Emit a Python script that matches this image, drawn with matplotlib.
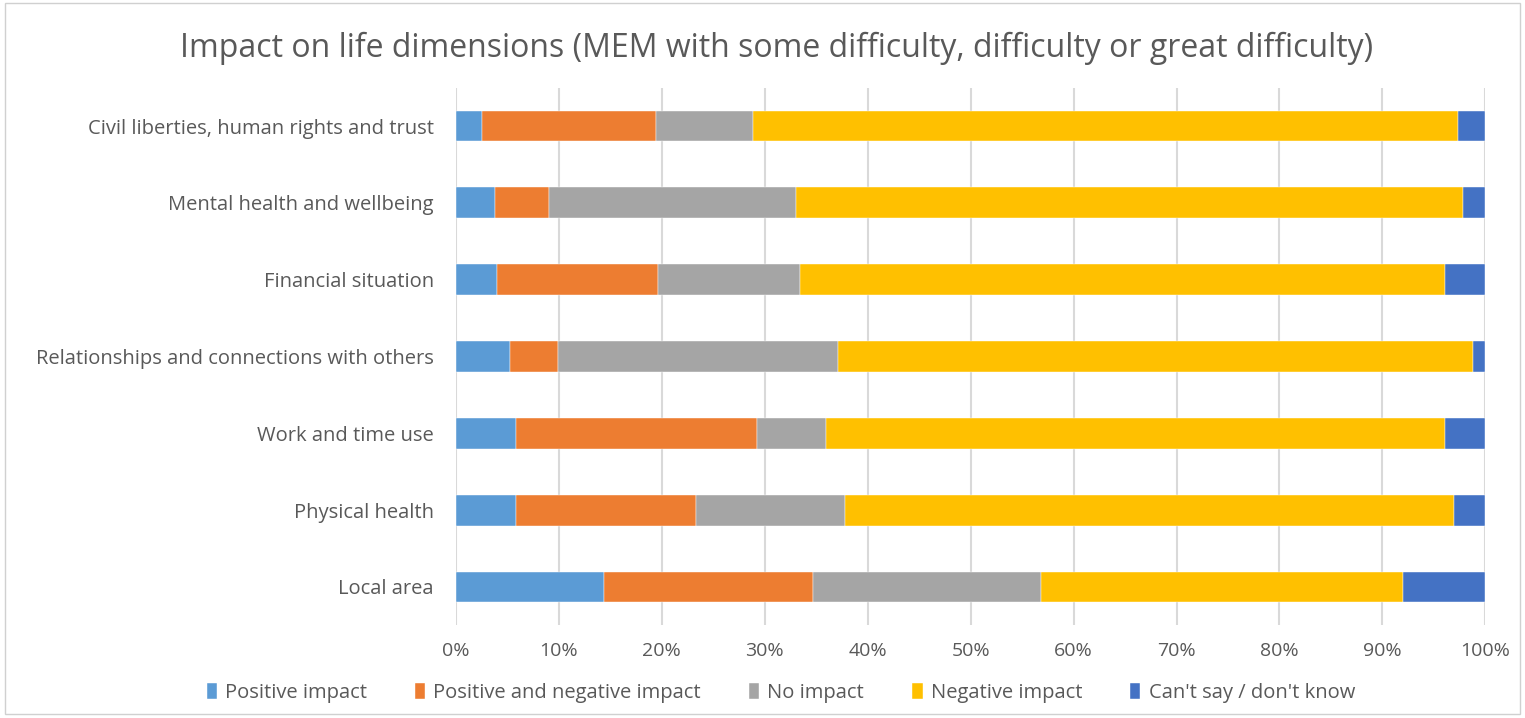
import numpy as np
import matplotlib.pyplot as plt
from matplotlib.patches import Rectangle

categories = ["Civil liberties, human rights and trust",
              "Mental health and wellbeing",
              "Financial situation",
              "Relationships and connections with others",
              "Work and time use",
              "Physical health",
              "Local area"]

series_names = ["Positive impact", "Positive and negative impact", "No impact",
                "Negative impact", "Can't say / don't know"]

positive = [2.5, 3.8, 4.0, 5.2, 5.8, 5.8, 14.4]
pos_neg = [16.9, 5.2, 15.6, 4.7, 23.4, 17.5, 20.3]
no_impact = [9.5, 24.0, 13.8, 27.2, 6.7, 14.5, 22.1]
negative = [68.4, 64.8, 62.7, 61.7, 60.2, 59.2, 35.2]
dont_know = [2.7, 2.2, 3.9, 1.2, 3.9, 3.0, 8.0]

colors = ["#5b9bd5", "#ed7d31", "#a5a5a5", "#ffc000", "#4472c4"]
txt = "#595959"

fig = plt.figure(figsize=(15.25, 7.18), dpi=100)
ax = fig.add_axes([0.299, 0.129, 0.675, 0.749])

y = np.arange(len(categories))
left = np.zeros(len(categories))
for vals, name, c in zip([positive, pos_neg, no_impact, negative, dont_know], series_names, colors):
    ax.barh(y, vals, left=left, height=0.4, color=c, label=name, zorder=3,
            edgecolor="white", linewidth=0.3)
    left += np.array(vals)

ax.set_ylim(len(categories) - 0.5, -0.5)
ax.set_xlim(0, 100)
ax.set_yticks(y)
ax.set_yticklabels(categories, fontsize=14.5, color=txt, family="Open Sans")
ax.set_xticks(np.arange(0, 101, 10))
ax.set_xticklabels([f"{v}%" for v in range(0, 101, 10)], fontsize=14, color=txt,
                   family="Open Sans")
ax.tick_params(length=0)
ax.tick_params(axis="y", pad=16)
ax.tick_params(axis="x", pad=12)
ax.grid(axis="x", color="#d9d9d9", linewidth=1.5, zorder=0)
for s in ax.spines.values():
    s.set_visible(False)

fig.suptitle("Impact on life dimensions (MEM with some difficulty, difficulty or great difficulty)",
             x=0.509, y=0.956, fontsize=23, color=txt, family="Open Sans")

leg = fig.legend(loc="center", bbox_to_anchor=(0.512, 0.035), ncol=5, frameon=False,
                 prop={"family": "Open Sans", "size": 14.5}, handlelength=0.5,
                 handleheight=0.8, columnspacing=2.4, handletextpad=0.4)
for t in leg.get_texts():
    t.set_color(txt)

fig.patches.append(Rectangle((0.003, 0.006), 0.994, 0.99, transform=fig.transFigure,
                             fill=False, edgecolor="#d0d0d0", linewidth=1))

fig.savefig("out.png", dpi=100)
